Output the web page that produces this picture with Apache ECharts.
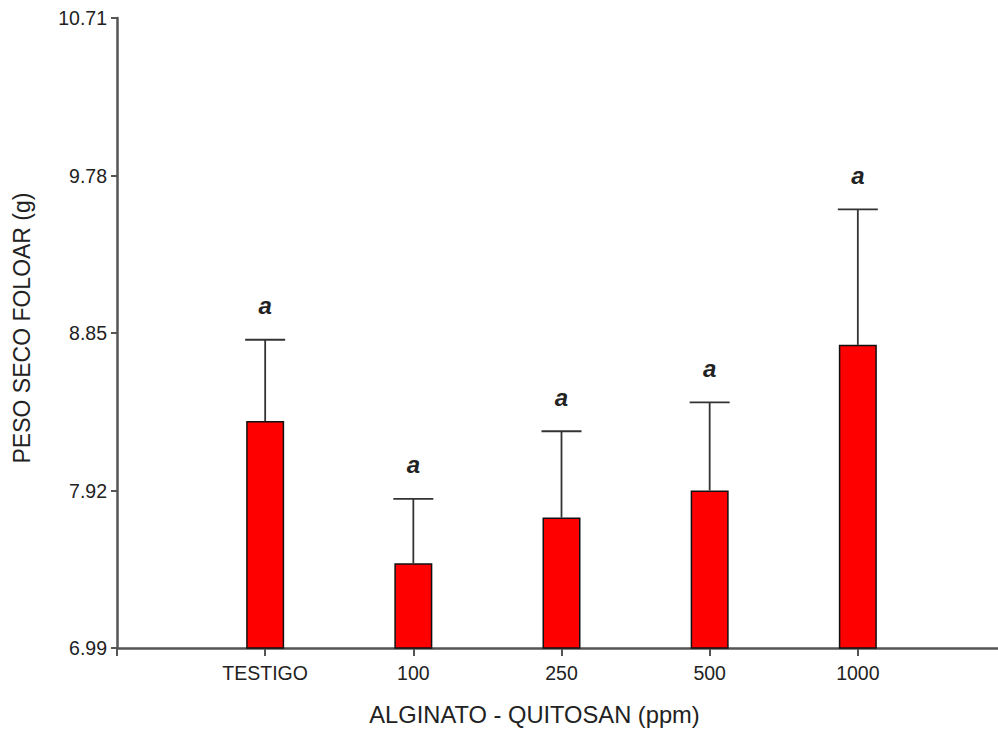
<!DOCTYPE html>
<html>
<head>
<meta charset="utf-8">
<script src="https://cdn.jsdelivr.net/npm/echarts@6/dist/echarts.min.js"></script>
<style>
  html, body { margin: 0; padding: 0; background: #fff; }
  #chart { width: 998px; height: 731px; }
</style>
</head>
<body>
<div id="chart"></div>
<script>
// Treatments (empty slots pad the axis on both sides)
const categories = ['', 'TESTIGO', '100', '250', '500', '1000', ''];
// Mean foliar dry weight (g) per treatment
const means = [null, 8.33, 7.49, 7.76, 7.92, 8.78, null];
// Upper end of each error bar (g)
const upper = [null, 8.81, 7.87, 8.27, 8.44, 9.58, null];
// Significance letters
const letters = [null, 'a', 'a', 'a', 'a', 'a', null];
// Y-axis tick values
const yTicks = [6.99, 7.92, 8.85, 9.78, 10.71];

const FONT = '"Liberation Sans", Arial, sans-serif';
const TEXT = '#222';
const AXIS = '#555';
const BAR_W = 38;

const errData = categories.map((c, i) => means[i] == null ? null : [i, means[i], upper[i], letters[i]])
  .filter(d => d);

const chart = echarts.init(document.getElementById('chart'), null, { renderer: 'svg' });
chart.setOption({
  animation: false,
  backgroundColor: '#fff',
  grid: { left: 117, top: 18, height: 630, width: 889, containLabel: false, outerBoundsMode: 'none' },
  xAxis: {
    type: 'category',
    data: categories,
    boundaryGap: false,
    name: 'ALGINATO - QUITOSAN (ppm)',
    nameLocation: 'middle',
    nameGap: 55,
    nameTextStyle: { fontFamily: FONT, fontSize: 23.7, color: TEXT, padding: [0, 54, 0, 0] },
    axisLine: { lineStyle: { color: AXIS, width: 2.5 } },
    axisTick: { show: true, length: 8, lineStyle: { color: AXIS, width: 2 }, alignWithLabel: true },
    axisLabel: { fontFamily: FONT, fontSize: 19.5, color: TEXT, margin: 15, interval: 0 },
    splitLine: { show: false }
  },
  yAxis: {
    type: 'value',
    min: 6.99,
    max: 10.71,
    name: 'PESO SECO FOLOAR (g)',
    nameLocation: 'middle',
    nameGap: 84,
    nameRotate: 90,
    nameTextStyle: { fontFamily: FONT, fontSize: 23, color: TEXT, padding: [0, 0, 0, 10] },
    axisLine: { show: true, lineStyle: { color: AXIS, width: 2.5 } },
    axisTick: { show: true, length: 6, lineStyle: { color: AXIS, width: 2 }, customValues: yTicks },
    axisLabel: {
      fontFamily: FONT, fontSize: 19.5, color: TEXT, margin: 10,
      customValues: yTicks,
      formatter: v => v.toFixed(2)
    },
    splitLine: { show: false }
  },
  series: [
    {
      type: 'bar',
      data: means,
      barWidth: BAR_W,
      itemStyle: { color: '#ff0000', borderColor: '#111', borderWidth: 1.5 },
      z: 2
    },
    {
      type: 'custom',
      data: errData,
      z: 3,
      renderItem: function (params, api) {
        const x = api.coord([api.value(0), api.value(1)])[0];
        const yMean = api.coord([api.value(0), api.value(1)])[1];
        const yTop = api.coord([api.value(0), api.value(2)])[1];
        const half = (BAR_W + 2) / 2;
        const style = { stroke: '#333', lineWidth: 1.8 };
        return {
          type: 'group',
          children: [
            { type: 'line', shape: { x1: x, y1: yMean, x2: x, y2: yTop }, style: style },
            { type: 'line', shape: { x1: x - half, y1: yTop, x2: x + half, y2: yTop }, style: style },
            {
              type: 'text',
              x: x, y: yTop - 22,
              style: {
                text: api.value(3),
                fill: TEXT,
                font: 'italic bold 24px ' + FONT,
                align: 'center',
                verticalAlign: 'bottom'
              }
            }
          ]
        };
      }
    }
  ]
});
</script>
</body>
</html>
